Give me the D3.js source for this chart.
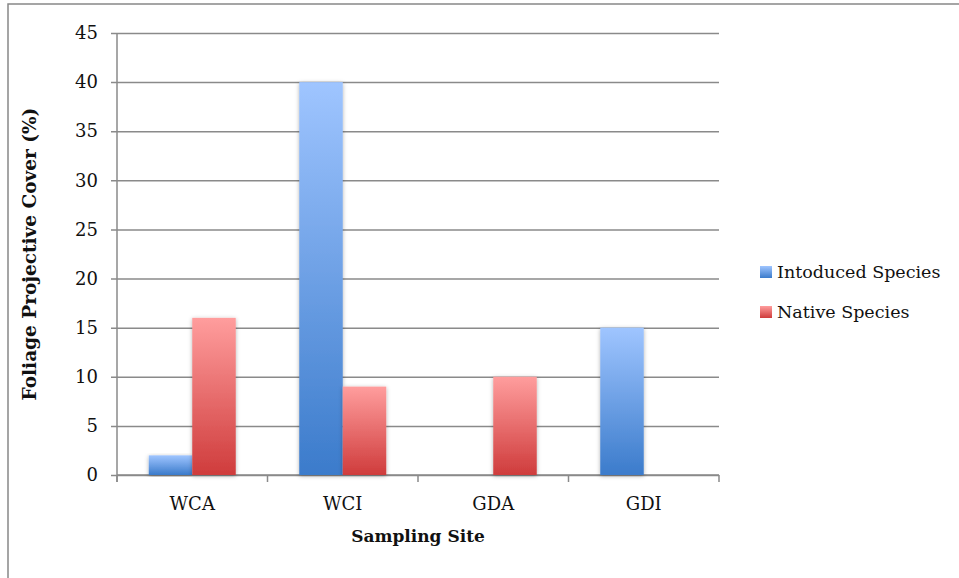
<!DOCTYPE html>
<html>
<head>
<meta charset="utf-8">
<script src="https://cdn.jsdelivr.net/npm/d3@7/dist/d3.min.js"></script>
<style>
  html, body { margin: 0; padding: 0; background: #fff; }
  svg { display: block; }
  text { font-family: "DejaVu Serif", "Liberation Serif", serif; fill: #111; }
</style>
</head>
<body>
<svg id="chart" width="959" height="578"></svg>
<script>
// Foliage projective cover by sampling site
const sites = ["WCA", "WCI", "GDA", "GDI"];
const seriesNames = ["Intoduced Species", "Native Species"];
const introduced = [2, 40, 0, 15];
const native = [16, 9, 10, 0];
const yTicks = [0, 5, 10, 15, 20, 25, 30, 35, 40, 45];

const svg = d3.select("#chart");
const W = 959, H = 578;
const plot = { left: 117, right: 719, top: 33, bottom: 475 };

// outer frame
svg.append("path")
  .attr("d", `M8,${H + 2} L8,4 L${W + 2},4`)
  .attr("fill", "none").attr("stroke", "#888").attr("stroke-width", 1.5);

const defs = svg.append("defs");
const grads = [
  { id: "gBlue", top: "#9fc5ff", bottom: "#3b7bcb" },
  { id: "gRed", top: "#ff9d9d", bottom: "#cf3c3c" }
];
grads.forEach(g => {
  const lg = defs.append("linearGradient").attr("id", g.id)
    .attr("x1", 0).attr("y1", 0).attr("x2", 0).attr("y2", 1);
  lg.append("stop").attr("offset", "0%").attr("stop-color", g.top);
  lg.append("stop").attr("offset", "100%").attr("stop-color", g.bottom);
});
const shadow = defs.append("filter").attr("id", "shadow")
  .attr("x", "-30%").attr("y", "-10%").attr("width", "160%").attr("height", "120%");
shadow.append("feDropShadow").attr("dx", 0).attr("dy", 1)
  .attr("stdDeviation", 2.2).attr("flood-color", "#000").attr("flood-opacity", 0.3);

const y = d3.scaleLinear().domain([0, 45]).range([plot.bottom, plot.top]);
const x0 = d3.scaleBand().domain(sites).range([plot.left, plot.right]).padding(0);
const x1 = d3.scaleBand().domain(seriesNames).range([0, x0.bandwidth()])
  .paddingInner(0).paddingOuter(0.73);

// horizontal gridlines + y axis
const yAxis = d3.axisLeft(y).tickValues(yTicks).tickSize(6).tickPadding(13)
  .tickFormat(d3.format("d"));
const gy = svg.append("g").attr("transform", `translate(${plot.left},0)`).call(yAxis);
gy.select(".domain").attr("stroke", "#8a8a8a").attr("stroke-width", 1.5)
  .attr("d", `M0,${plot.bottom + 7}V${plot.top}`);
gy.selectAll(".tick line").attr("stroke", "#8a8a8a").attr("stroke-width", 1.5)
  .attr("x1", -6).attr("x2", plot.right - plot.left);
gy.selectAll(".tick text").attr("font-size", 18).attr("fill", "#111")
  .style("font-family", "'DejaVu Serif', serif");

// x axis with boundary ticks between categories
const boundaries = sites.map(s => x0(s)).concat([plot.right]);
const gx = svg.append("g");
gx.append("line").attr("x1", plot.left).attr("x2", plot.right)
  .attr("y1", plot.bottom).attr("y2", plot.bottom)
  .attr("stroke", "#8a8a8a").attr("stroke-width", 1.5);
gx.selectAll(".bt").data(boundaries).join("line")
  .attr("x1", d => d).attr("x2", d => d)
  .attr("y1", plot.bottom).attr("y2", plot.bottom + 7)
  .attr("stroke", "#8a8a8a").attr("stroke-width", 1.5);
gx.selectAll(".cat").data(sites).join("text")
  .attr("x", d => x0(d) + x0.bandwidth() / 2)
  .attr("y", 510).attr("text-anchor", "middle").attr("font-size", 18)
  .text(d => d);

// bars
const rows = sites.map((s, i) => ({ site: s, vals: [introduced[i], native[i]] }));
const fills = ["url(#gBlue)", "url(#gRed)"];
const grp = svg.append("g").selectAll("g").data(rows).join("g")
  .attr("transform", d => `translate(${x0(d.site)},0)`);
grp.selectAll("rect")
  .data(d => d.vals.map((v, k) => ({ k, v })).filter(e => e.v > 0))
  .join("rect")
  .attr("x", e => x1(seriesNames[e.k]))
  .attr("width", x1.bandwidth())
  .attr("y", e => y(e.v))
  .attr("height", e => y(0) - y(e.v))
  .attr("fill", e => fills[e.k])
  .attr("filter", "url(#shadow)");

// axis titles
svg.append("text")
  .attr("transform", `translate(36,${(plot.top + plot.bottom) / 2}) rotate(-90)`)
  .attr("text-anchor", "middle").attr("font-size", 18.5).attr("font-weight", "bold")
  .text("Foliage Projective Cover (%)");
svg.append("text")
  .attr("x", (plot.left + plot.right) / 2).attr("y", 542)
  .attr("text-anchor", "middle").attr("font-size", 17).attr("font-weight", "bold")
  .text("Sampling Site");

// legend
const leg = svg.append("g").selectAll("g").data(seriesNames).join("g")
  .attr("transform", (d, i) => `translate(760,${266 + i * 40})`);
leg.append("rect").attr("width", 12).attr("height", 12)
  .attr("fill", (d, i) => fills[i]);
leg.append("text").attr("x", 17).attr("y", 12).attr("font-size", 17.5).text(d => d);
</script>
</body>
</html>
